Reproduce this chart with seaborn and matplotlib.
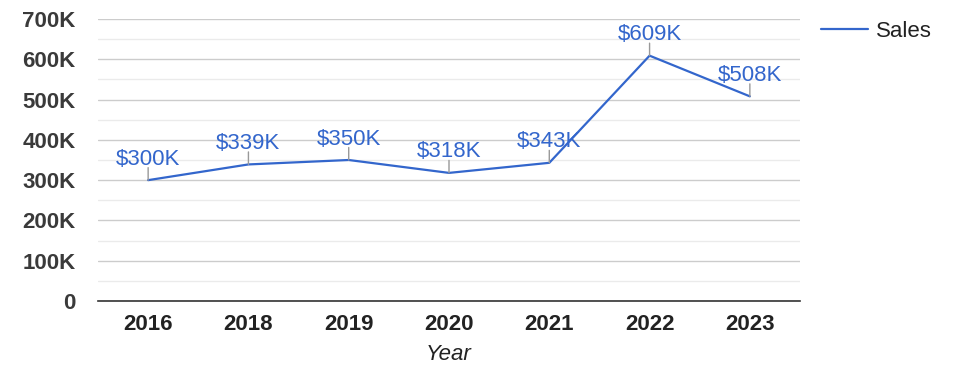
import numpy as np
import pandas as pd
import seaborn as sns
import matplotlib.pyplot as plt
from matplotlib.ticker import MultipleLocator, FuncFormatter

sns.set_style('white')
plt.rcParams['font.family'] = ['Liberation Sans', 'DejaVu Sans']

years = ['2016', '2018', '2019', '2020', '2021', '2022', '2023']
sales = [300000, 339000, 350000, 318000, 343000, 609000, 508000]
labels = ['$300K', '$339K', '$350K', '$318K', '$343K', '$609K', '$508K']

df = pd.DataFrame({'Year': years, 'Sales': sales})

fig = plt.figure(figsize=(9.75, 3.78), dpi=100)
ax = fig.add_axes([98/975, 1-301/378, 702/975, 282/378])

blue = '#3366cc'
sns.lineplot(data=df, x='Year', y='Sales', ax=ax, color=blue, lw=1.6, label='Sales', sort=False)

for i, (v, t) in enumerate(zip(sales, labels)):
    ax.annotate('', xy=(i, v), xytext=(0, 9), textcoords='offset points',
                arrowprops=dict(arrowstyle='-', color='#999999', lw=1, shrinkA=0, shrinkB=0))
    ax.annotate(t, xy=(i, v), xytext=(0, 7.5), textcoords='offset points',
                ha='center', va='bottom', color=blue, fontsize=16)

ax.set_xlim(-0.5, 6.5)
ax.set_ylim(0, 700000)
ax.yaxis.set_major_locator(MultipleLocator(100000))
ax.yaxis.set_minor_locator(MultipleLocator(50000))
ax.yaxis.set_major_formatter(FuncFormatter(lambda v, p: '0' if v == 0 else '%dK' % (v/1000)))
ax.grid(axis='y', which='major', color='#cccccc', lw=1)
ax.grid(axis='y', which='minor', color='#ebebeb', lw=1)
ax.set_axisbelow(True)
for s in ['top', 'right', 'left']:
    ax.spines[s].set_visible(False)
ax.spines['bottom'].set_color('#333333')
ax.spines['bottom'].set_linewidth(1.2)

ax.tick_params(axis='y', which='both', length=0, pad=16, labelsize=16, labelcolor='#3a3a3a')
ax.tick_params(axis='x', length=0, pad=9, labelsize=16, labelcolor='#222222')
for lab in ax.get_xticklabels() + ax.get_yticklabels():
    lab.set_fontweight('bold')

ax.set_xlabel('Year', fontsize=16, style='italic', color='#222222', labelpad=7)
ax.set_ylabel('')

ax.legend(loc='upper left', bbox_to_anchor=(1.002, 1.065), frameon=False, fontsize=16,
          handlelength=2.1, handletextpad=0.35, labelcolor='#222222')

fig.savefig('out.png', dpi=100)
